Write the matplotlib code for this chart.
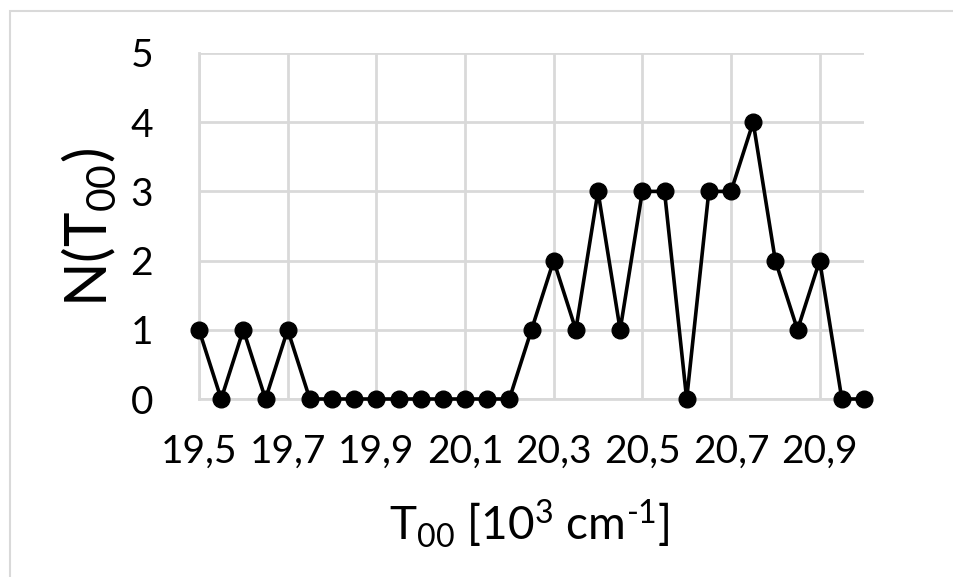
import matplotlib
matplotlib.use("Agg")
import matplotlib.pyplot as plt
from matplotlib.patches import Rectangle
from matplotlib.ticker import FuncFormatter

# Energy grid of the T00 term (10^3 cm^-1) and number of states per bin
t00 = [19.50, 19.55, 19.60, 19.65, 19.70, 19.75, 19.80, 19.85, 19.90, 19.95,
       20.00, 20.05, 20.10, 20.15, 20.20, 20.25, 20.30, 20.35, 20.40, 20.45,
       20.50, 20.55, 20.60, 20.65, 20.70, 20.75, 20.80, 20.85, 20.90, 20.95,
       21.00]
counts = [1, 0, 1, 0, 1, 0, 0, 0, 0, 0,
          0, 0, 0, 0, 0, 1, 2, 1, 3, 1,
          3, 3, 0, 3, 3, 4, 2, 1, 2, 0,
          0]
x_ticks = [19.5, 19.7, 19.9, 20.1, 20.3, 20.5, 20.7, 20.9]
y_ticks = [0, 1, 2, 3, 4, 5]

plt.rcParams['font.family'] = ['Lato', 'DejaVu Sans']
plt.rcParams['mathtext.fontset'] = 'custom'
plt.rcParams['mathtext.rm'] = 'Lato'
plt.rcParams['mathtext.it'] = 'Lato:italic'
plt.rcParams['mathtext.bf'] = 'Lato:bold'

W, H = 954, 577
fig = plt.figure(figsize=(W / 100, H / 100), dpi=100)
ax = fig.add_axes([199 / W, (H - 399) / H, (864 - 199) / W, (399 - 53) / H])

grid_col = '#d9d9d9'
ax.plot(t00, counts, color='black', lw=2.6, marker='o', ms=12,
        clip_on=False, zorder=3)

ax.set_xlim(19.5, 21.0)
ax.set_ylim(0, 5)
ax.set_xticks(x_ticks)
ax.set_yticks(y_ticks)
ax.xaxis.set_major_formatter(FuncFormatter(lambda v, p: f'{v:.1f}'.replace('.', ',')))
ax.tick_params(length=0, labelsize=28, colors='black')
ax.tick_params(axis='x', pad=25)
ax.tick_params(axis='y', pad=33)

ax.set_axisbelow(True)
ax.grid(True, color=grid_col, lw=2)
for s in ['top', 'right']:
    ax.spines[s].set_visible(False)
for s in ['left', 'bottom']:
    ax.spines[s].set_color(grid_col)
    ax.spines[s].set_linewidth(2)

ax.set_xlabel(r'T$_{\rm 00}$ [10$^{\rm 3}$ cm$^{\text{-}\rm 1}$]', fontsize=33)
ax.xaxis.set_label_coords((529 - 199) / (864 - 199), -(497 - 399) / (399 - 53))
ax.set_ylabel(r'N(T$_{\rm 00}$)', fontsize=42)
ax.yaxis.set_label_coords(-(199 - 118) / (864 - 199), (399 - 228) / (399 - 53))

# chart-area frame
fig.patches.append(Rectangle((10 / W, -0.1), 2, (H - 11) / H + 0.1,
                             transform=fig.transFigure, fill=False,
                             edgecolor=grid_col, lw=1.5))

fig.savefig('out.png', dpi=100)
